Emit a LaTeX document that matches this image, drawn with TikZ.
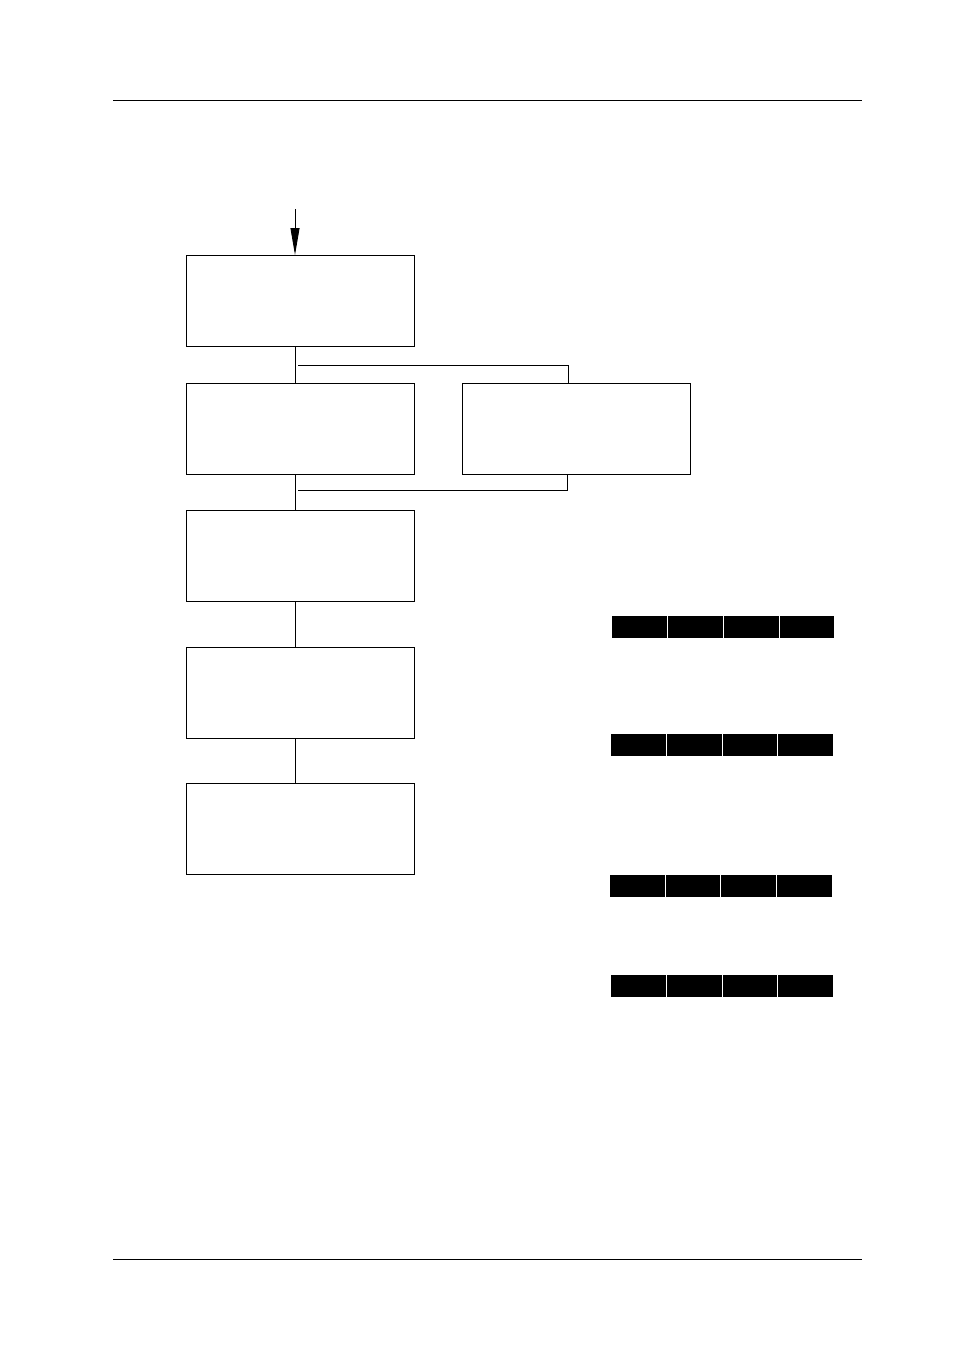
\documentclass[tikz,border=0pt]{standalone}
\usetikzlibrary{arrows.meta}
\begin{document}
\begin{tikzpicture}[x=1pt,y=-1pt,
  stepbox/.style={draw,line width=1.3pt,minimum width=228pt,minimum height=91pt,inner sep=0pt,anchor=north west},
  conn/.style={line width=0.9pt},
  rulel/.style={line width=0.9pt},
  cell/.style={fill=black,draw=none,inner sep=0pt,minimum height=22pt,anchor=north west}]
\useasboundingbox (0,0) rectangle (954,1351);
% rules
\coordinate (rtl) at (113,100.3); \coordinate (rtr) at (862,100.3);
\coordinate (rbl) at (113,1259.3); \coordinate (rbr) at (862,1259.3);
\draw[rulel] (rtl) -- (rtr);
\draw[rulel] (rbl) -- (rbr);
% boxes
\node[stepbox] (b1) at (186,255) {};
\node[stepbox] (b2) at (186,383) {};
\node[stepbox] (b2r) at (462,383) {};
\node[stepbox] (b3) at (186,510) {};
\node[stepbox] (b4) at (186,646.5) {};
\node[stepbox] (b5) at (186,782.5) {};
% entry arrow
\coordinate (in) at (295,209);
\draw[conn,-{Triangle[length=27pt,width=9pt]}] (in) -- (in |- b1.north);
% connectors
\draw[conn] (b1.south -| in) -- (b2.north -| in);
\coordinate (sp1) at (298,365);
\coordinate (sp1r) at (568,365);
\draw[conn] (sp1) -- (sp1r) -- (sp1r |- b2r.north);
\draw[conn] (b2.south -| in) -- (b3.north -| in);
\coordinate (sp2) at (298,490.5);
\coordinate (sp2r) at (567.5,490.5);
\draw[conn] (sp2r |- b2r.south) -- (sp2r) -- (sp2);
\draw[conn] (b3.south -| in) -- (b4.north -| in);
\draw[conn] (b4.south -| in) -- (b5.north -| in);
% black cell rows
\node[cell,minimum width=55pt] (c11) at (612,616) {};
\node[cell,minimum width=55pt] (c12) at (668,616) {};
\node[cell,minimum width=55pt] (c13) at (724,616) {};
\node[cell,minimum width=54pt] (c14) at (780,616) {};
\node[cell,minimum width=55pt] (c21) at (611,733.5) {};
\node[cell,minimum width=55pt] (c22) at (667,733.5) {};
\node[cell,minimum width=54pt] (c23) at (723,733.5) {};
\node[cell,minimum width=55pt] (c24) at (778,733.5) {};
\node[cell,minimum width=55pt] (c31) at (610,875) {};
\node[cell,minimum width=54pt] (c32) at (666,875) {};
\node[cell,minimum width=55pt] (c33) at (721,875) {};
\node[cell,minimum width=55pt] (c34) at (777,875) {};
\node[cell,minimum width=55pt] (c41) at (611,975) {};
\node[cell,minimum width=55pt] (c42) at (667,975) {};
\node[cell,minimum width=54pt] (c43) at (723,975) {};
\node[cell,minimum width=55pt] (c44) at (778,975) {};
\end{tikzpicture}
\end{document}
